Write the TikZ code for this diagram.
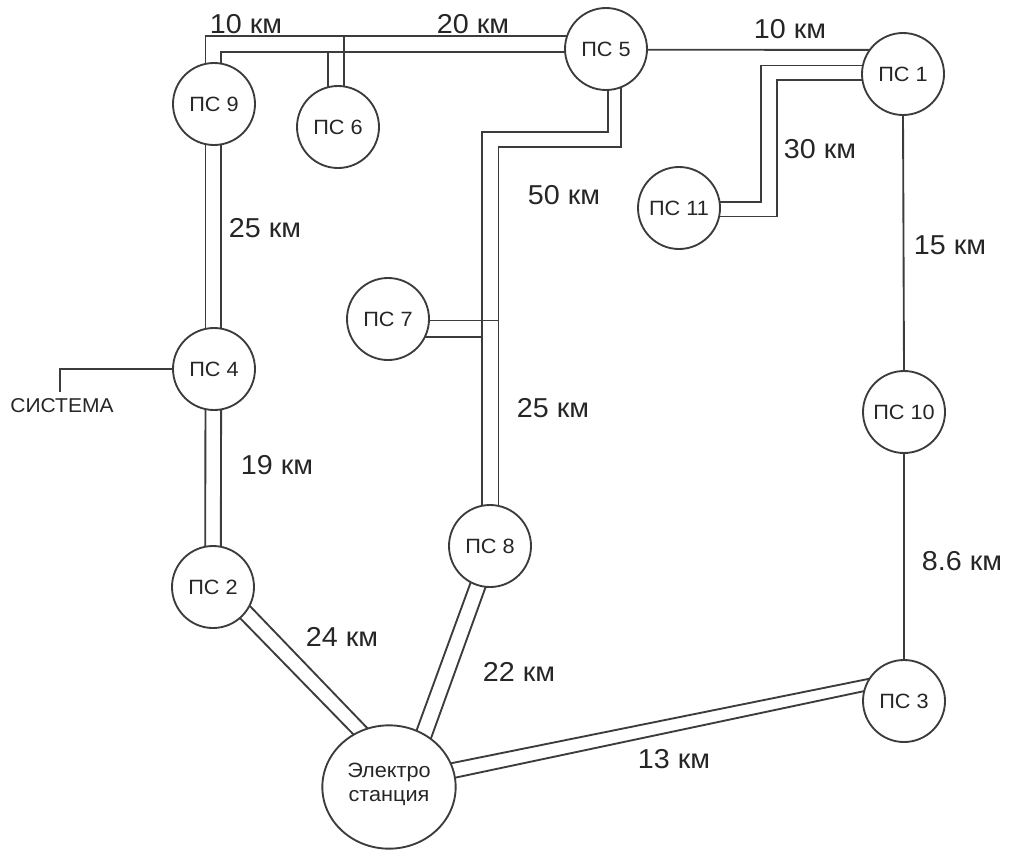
\documentclass[tikz,border=0pt]{standalone}
\usepackage{fontspec}
\setmainfont{Liberation Sans}[FakeStretch=1.05]
\usetikzlibrary{shapes.geometric}
\definecolor{ink}{HTML}{3C3C3C}
\definecolor{txt}{HTML}{262626}
\tikzset{
  sub/.style={circle,draw=ink,line width=1.4pt,minimum size=61.5pt,inner sep=0pt,outer sep=0pt,font=\fontsize{15.5pt}{17pt}\selectfont,text=txt},
  plant/.style={ellipse,draw=ink,line width=1.4pt,minimum width=100pt,minimum height=92.5pt,inner sep=0pt,outer sep=0pt,align=center,font=\fontsize{15.5pt}{18pt}\selectfont,text=txt},
  wire/.style={draw=ink,line width=1.4pt},
  dist/.style={font=\fontsize{20.5pt}{22pt}\selectfont,text=txt,inner sep=0pt},
  small/.style={font=\fontsize{15pt}{17pt}\selectfont,text=txt,inner sep=0pt}
}
\begin{document}
\begin{tikzpicture}[x=0.75pt,y=-0.75pt]
\useasboundingbox (0,0) rectangle (1010,850);
\node[sub] (pc9) at (214,104) {ПС 9};
\node[sub] (pc6) at (338,127) {ПС 6};
\node[sub] (pc5) at (606,49) {ПС 5};
\node[sub] (pc1) at (903,74) {ПС 1};
\node[sub] (pc11) at (679,208) {ПС 11};
\node[sub] (pc7) at (388,319) {ПС 7};
\node[sub] (pc4) at (214,369) {ПС 4};
\node[sub] (pc2) at (213,587) {ПС 2};
\node[sub] (pc8) at (490,546) {ПС 8};
\node[sub] (pc10) at (904,412) {ПС 10};
\node[sub] (pc3) at (904,701) {ПС 3};
\node[plant] (st) at (389,787) {Электро\\станция\rule[-7.5pt]{0pt}{7.5pt}};
\node[small] (sys) at (62,406) {СИСТЕМА};
\coordinate (j1) at (545,132);
\coordinate (j2) at (560,147);
\coordinate (k1) at (761,140);
\coordinate (k2) at (777,150);
\coordinate (s1) at (60,392);
% top pair
\draw[wire] (pc9.102.7) |- (pc5.161.5);
\draw[wire] (pc9.80.2) |- (pc5.184.2);
\draw[wire] (pc6.104.1) -- (pc6.104.1 |- pc5.184.2);
\draw[wire] (pc6.81.6) -- (pc6.81.6 |- pc5.161.5);
% PC5 - PC1 - PC11
\draw[wire] (pc5.-1.4) -- (pc1.144.2);
\draw[wire] (pc1.168.8) -| (k1) |- (pc11.8.4);
\draw[wire] (pc1.189.8) -| (k2) |- (pc11.-12.7);
% PC5 - PC8
\draw[wire] (pc5.-87.2) |- (j1) -| (pc8.101.2);
\draw[wire] (pc5.-68.5) |- (j2) -| (pc8.78.8);
% PC7
\draw[wire] (pc7.-2.8) -- (pc7.-2.8 -| pc8.78.8);
\draw[wire] (pc7.-26) -- (pc7.-26 -| pc8.101.2);
% left column
\draw[wire] (pc9.-102.7) -- (pc4.102.7);
\draw[wire] (pc9.-80.2) -- (pc4.80.2);
\draw[wire] (pc4.-102.7) -- (pc2.101.5);
\draw[wire] (pc4.-80.2) -- (pc2.79);
% system
\draw[wire] (pc4.west) -| (s1);
% right column
\draw[wire] (pc1.south) -- (pc10.north);
\draw[wire] (pc10.south) -- (pc3.north);
% station
\draw[wire] (pc2.-27) -- (st.110.4);
\draw[wire] (pc2.-49) -- (st.124.7);
\draw[wire] (pc8.-118) -- (st.64.2);
\draw[wire] (pc8.-96) -- (st.49.3);
\draw[wire] (pc3.147) -- (st.21);
\draw[wire] (pc3.166) -- (st.8);
% labels
\node[dist] (l1) at (246,24) {10 км};
\node[dist] (l2) at (473,24) {20 км};
\node[dist] (l3) at (790,29) {10 км};
\node[dist] (l4) at (820,149) {30 км};
\node[dist] (l5) at (564,195) {50 км};
\node[dist] (l6) at (265,228) {25 км};
\node[dist] (l7) at (950,245) {15 км};
\node[dist] (l8) at (553,408) {25 км};
\node[dist] (l9) at (277,465) {19 км};
\node[dist] (l10) at (342,637) {24 км};
\node[dist] (l11) at (519,672) {22 км};
\node[dist] (l12) at (674,759) {13 км};
\node[dist] (l13) at (962,561) {8.6 км};
\end{tikzpicture}
\end{document}
